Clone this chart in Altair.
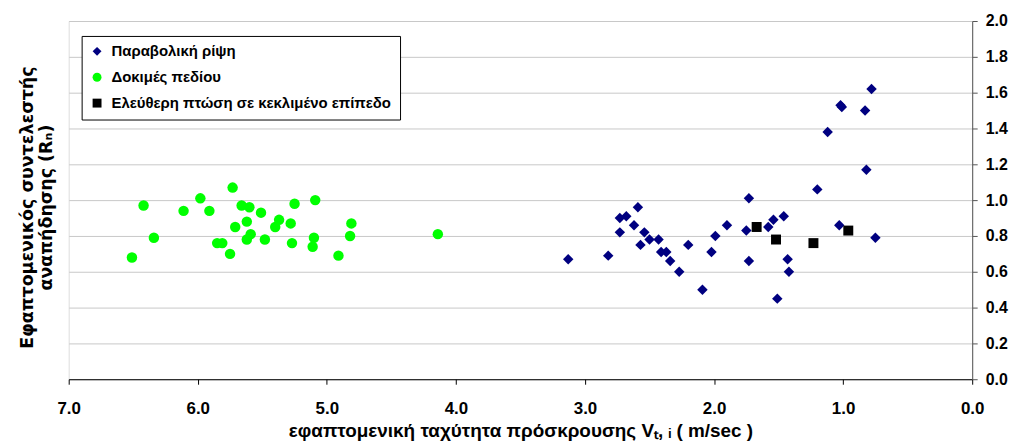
import altair as alt
import pandas as pd

# Series names
series_names = ["Παραβολική ρίψη", "Δοκιμές πεδίου", "Ελεύθερη πτώση σε κεκλιμένο επίπεδο"]
series_colors = ["#000080", "#00FF00", "#000000"]
series_shapes = ["diamond", "circle", "square"]

# Παραβολική ρίψη
para_v = [3.13, 2.82, 2.73, 2.68, 2.59, 2.73, 2.62, 2.54, 2.57, 2.50, 2.43, 2.41, 2.37, 2.34,
          2.27, 2.20, 2.02, 1.99, 2.09, 1.90, 1.73, 1.75, 1.73, 1.58, 1.54, 1.46, 1.51, 1.43,
          1.42, 1.20, 1.12, 1.03, 1.02, 1.01, 0.83, 0.82, 0.78, 0.75]
para_r = [0.67, 0.69, 0.90, 0.91, 0.96, 0.82, 0.86, 0.82, 0.75, 0.78, 0.78, 0.71, 0.71, 0.66,
          0.60, 0.75, 0.71, 0.80, 0.50, 0.86, 1.01, 0.83, 0.66, 0.85, 0.89, 0.91, 0.45, 0.67,
          0.60, 1.06, 1.38, 0.86, 1.53, 1.52, 1.50, 1.17, 1.62, 0.79]

# Δοκιμές πεδίου
field_v = [6.51, 6.42, 6.34, 6.11, 5.98, 5.91, 5.85, 5.81, 5.75, 5.73, 5.71, 5.66, 5.60, 5.62,
           5.59, 5.62, 5.51, 5.48, 5.40, 5.37, 5.28, 5.25, 5.27, 5.09, 5.10, 5.11, 4.91, 4.81,
           4.82, 4.14]
field_r = [0.68, 0.97, 0.79, 0.94, 1.01, 0.94, 0.76, 0.76, 0.70, 1.07, 0.85, 0.97, 0.96, 0.88,
           0.81, 0.78, 0.93, 0.78, 0.85, 0.89, 0.87, 0.98, 0.76, 1.00, 0.79, 0.74, 0.69, 0.87,
           0.80, 0.81]

# Ελεύθερη πτώση σε κεκλιμένο επίπεδο
incl_v = [1.67, 1.52, 1.23, 0.96]
incl_r = [0.85, 0.78, 0.76, 0.83]

x_ticks = [0, 1, 2, 3, 4, 5, 6, 7]
y_ticks = [0, 0.2, 0.4, 0.6, 0.8, 1.0, 1.2, 1.4, 1.6, 1.8, 2.0]

rows = []
for name, vs, rs in [(series_names[1], field_v, field_r),
                     (series_names[0], para_v, para_r),
                     (series_names[2], incl_v, incl_r)]:
    for v, r in zip(vs, rs):
        rows.append({"series": name, "v": v, "r": r})
df = pd.DataFrame(rows)

x_scale = alt.Scale(domain=[0, 7], reverse=True, nice=False, zero=False)
x_enc = alt.X("v:Q", scale=x_scale,
              axis=alt.Axis(values=x_ticks, format=".1f", grid=False, labelFlush=False,
                            title="εφαπτομενική ταχύτητα πρόσκρουσης Vₜ, ᵢ ( m/sec )",
                            labelFont="Liberation Sans", labelFontSize=17, labelFontWeight="bold",
                            labelColor="#000000", labelPadding=16,
                            titleFont="Liberation Sans", titleFontSize=19, titleFontWeight="bold",
                            titleColor="#000000", titlePadding=6,
                            domainColor="#000000", tickColor="#000000", tickSize=5))

points = alt.Chart(df).mark_point(filled=True, opacity=1, strokeWidth=0).encode(
    x=x_enc,
    y=alt.Y("r:Q",
            scale=alt.Scale(domain=[0, 2], nice=False),
            axis=alt.Axis(orient="right", values=y_ticks, format=".1f", grid=True,
                          gridColor="#c8c8c8", gridWidth=1, title=None, labelFlush=False,
                          labelFont="Liberation Sans", labelFontSize=16, labelFontWeight="bold",
                          labelColor="#000000", labelPadding=8,
                          domainColor="#555555", tickColor="#555555", tickSize=5)),
    color=alt.Color("series:N", scale=alt.Scale(domain=series_names, range=series_colors),
                    legend=alt.Legend(title=None, orient="none", legendX=13, legendY=15,
                                      labelFont="Liberation Sans", labelFontSize=15,
                                      labelFontWeight="bold", labelColor="#000000",
                                      symbolSize=80, rowPadding=10, padding=8,
                                      labelOffset=7,
                                      strokeColor="#000000", fillColor="#ffffff",
                                      labelLimit=400)),
    shape=alt.Shape("series:N", scale=alt.Scale(domain=series_names, range=series_shapes)),
    size=alt.condition(alt.datum.series == series_names[2], alt.value(100), alt.value(110)),
)

ytitle = alt.Chart(df).mark_point(opacity=0).encode(
    x=x_enc,
    y=alt.Y("r:Q", scale=alt.Scale(domain=[0, 2], nice=False),
            axis=alt.Axis(orient="left", labels=False, ticks=False, domain=False, grid=False,
                          title=["Εφαπτομενικός συντελεστής", "αναπήδησης (Rₙ)"],
                          titleFont="DejaVu Sans", titleFontSize=17.5, titleFontWeight="bold",
                          titleColor="#000000", titlePadding=13, titleLineHeight=19,
                          titleY=187)),
)

chart = alt.layer(ytitle, points).resolve_axis(y="independent").properties(
    width=908, height=360,
    autosize=alt.AutoSizeParams(type="none"),
    padding={"left": 61, "top": 12, "right": 40, "bottom": 62},
).configure_view(stroke="#808080", strokeWidth=1).configure(background="#ffffff")

chart.save("out.html", embed_options={"renderer": "svg", "actions": False})
